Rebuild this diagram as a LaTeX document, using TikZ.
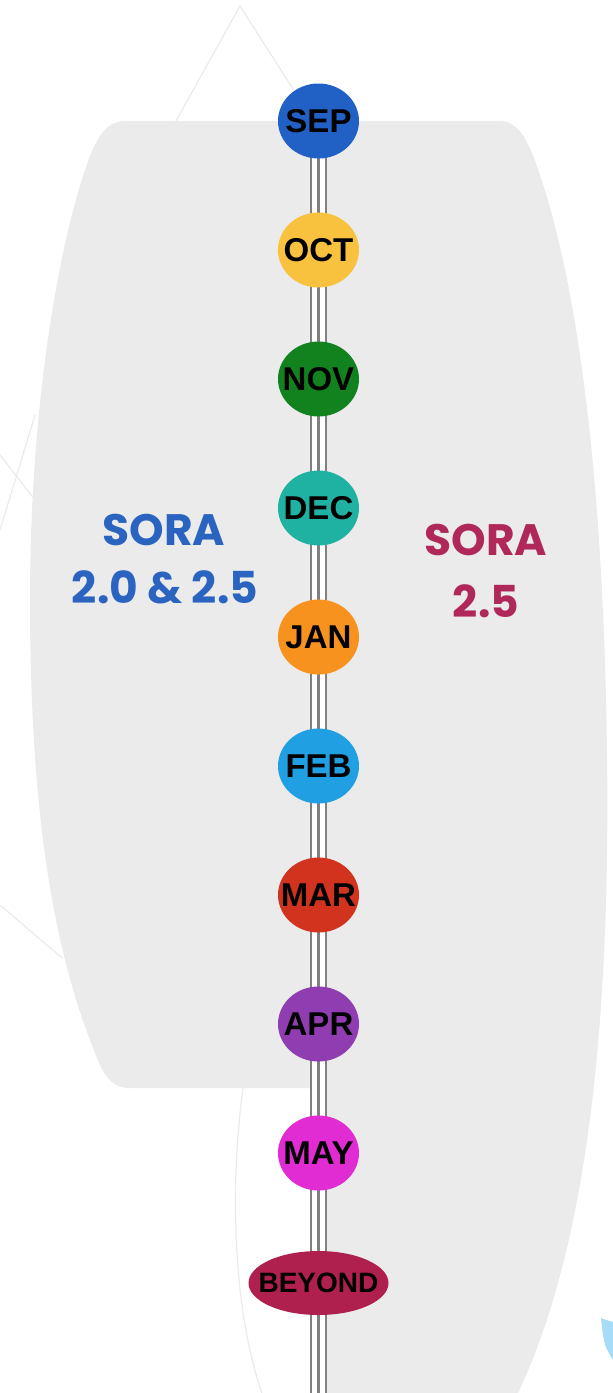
\documentclass[tikz,border=0pt]{standalone}
\usepackage{fontspec}
\setmainfont{Liberation Sans}
\newfontfamily\sorafont{Poppins}
\usetikzlibrary{shapes.geometric}
\definecolor{bggray}{HTML}{EBEBEB}
\definecolor{faint}{HTML}{EBEBEB}
\definecolor{railgray}{HTML}{808080}
\definecolor{soraBlue}{HTML}{2A64C0}
\definecolor{soraRed}{HTML}{B0285A}
\definecolor{cSep}{HTML}{2160C4}
\definecolor{cOct}{HTML}{F8C23E}
\definecolor{cNov}{HTML}{12821F}
\definecolor{cDec}{HTML}{1FB2A2}
\definecolor{cJan}{HTML}{F8921E}
\definecolor{cFeb}{HTML}{219FE3}
\definecolor{cMar}{HTML}{D1331F}
\definecolor{cApr}{HTML}{8F3DB0}
\definecolor{cMay}{HTML}{E02CD2}
\definecolor{cBey}{HTML}{B0204F}
\definecolor{blob}{HTML}{A6DCF8}
\begin{document}
\begin{tikzpicture}[x=1pt,y=-1pt,
  month/.style={ellipse, minimum width=81pt, minimum height=75pt, inner sep=-12pt,
    font=\bfseries\fontsize{33}{33}\selectfont, text=black},
  rail/.style={draw=railgray, line width=2.2pt},
  railbed/.style={draw=white, line width=17pt},
  deco/.style={draw=faint, line width=1.2pt},
  soraL/.style={font=\sorafont\bfseries\fontsize{44}{44}\selectfont, text=soraBlue, anchor=base, inner sep=0pt},
  soraR/.style={font=\sorafont\bfseries\fontsize{44}{44}\selectfont, text=soraRed, anchor=base, inner sep=0pt}]
\useasboundingbox (0,0) rectangle (613,1393);
\fill[white] (0,0) rectangle (613,1393);
% faint background decoration
\draw[deco] (176,121) -- (240,6) -- (300,100);
\draw[deco] (35,415) -- (0,530);
\draw[deco] (0,455) -- (35,500);
\draw[deco] (0,905) -- (62,958);
\draw[deco] (243,1088) .. controls (228,1200) and (236,1320) .. (262,1393);
\fill[blob] (601,1318) .. controls (606,1320) .. (613,1322) -- (613,1360) .. controls (604,1345) .. (601,1318) -- cycle;
% gray background shape
\fill[bggray] (125,121) -- (500,121) .. controls (520,121) and (530,145) .. (540,175)
  .. controls (575,280) and (600,450) .. (606,700)
  .. controls (612,950) and (600,1220) .. (518,1393)
  -- (318,1393) -- (318,1088) -- (130,1088)
  .. controls (115,1088) and (107,1080) .. (100,1065)
  .. controls (55,960) and (30,820) .. (30,600)
  .. controls (30,420) and (55,260) .. (85,170)
  .. controls (95,140) and (105,121) .. (125,121) -- cycle;
% labels
\node[soraL] (l1) at (164,545) {SORA};
\node[soraL] (l2) at (165,603) {2.0 \& 2.5};
\node[soraR] (r1) at (486,555) {SORA};
\node[soraR] (r2) at (486,617) {2.5};
% timeline coordinates
\coordinate (pSep) at (318.5,121);
\coordinate (bot) at (318.5,1393);
\draw[railbed] (pSep) -- (bot);
\draw[rail] ([xshift=-7.5pt]pSep) -- ([xshift=-7.5pt]bot);
\draw[rail] (pSep) -- (bot);
\draw[rail] ([xshift=7.5pt]pSep) -- ([xshift=7.5pt]bot);
% month nodes
\node[month, fill=cSep] (sep) at (318.5,121) {SEP};
\node[month, fill=cOct] (oct) at (318.5,250) {OCT};
\node[month, fill=cNov] (nov) at (318.5,379) {NOV};
\node[month, fill=cDec] (dec) at (318.5,508) {DEC};
\node[month, fill=cJan] (jan) at (318.5,637) {JAN};
\node[month, fill=cFeb] (feb) at (318.5,766) {FEB};
\node[month, fill=cMar] (mar) at (318.5,895) {MAR};
\node[month, fill=cApr] (apr) at (318.5,1024) {APR};
\node[month, fill=cMay] (may) at (318.5,1153) {MAY};
\node[month, fill=cBey, minimum width=140pt, minimum height=64pt, font=\bfseries\fontsize{28}{28}\selectfont] (bey) at (318.5,1283) {BEYOND};
\end{tikzpicture}
\end{document}
